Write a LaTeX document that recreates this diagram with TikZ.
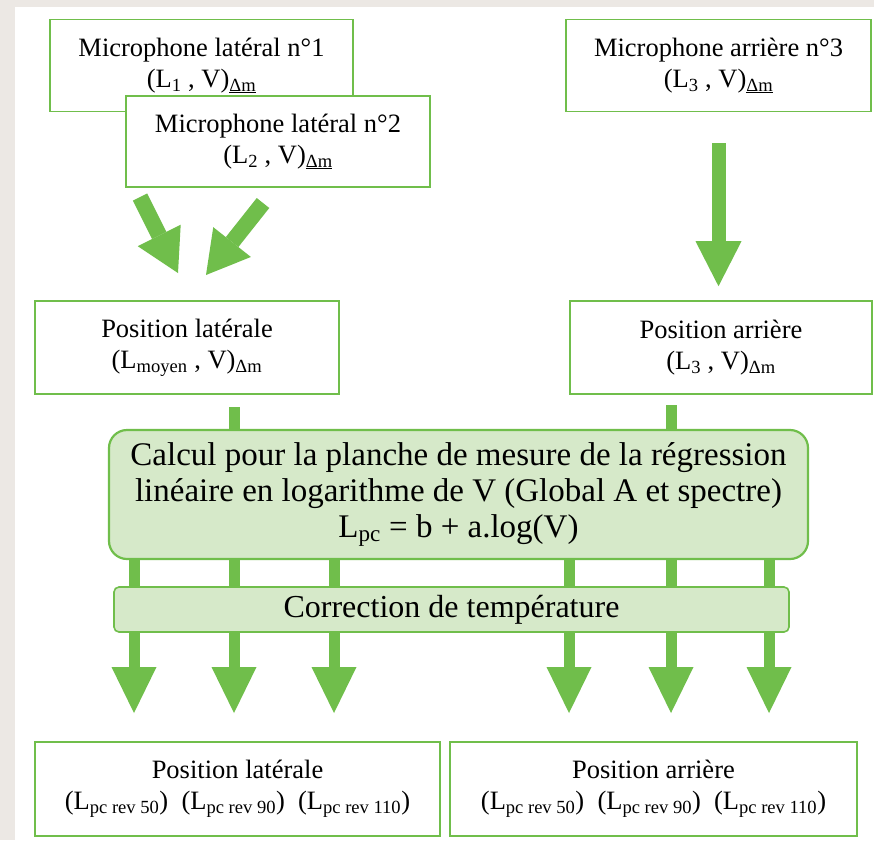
\documentclass[tikz,border=0pt]{standalone}
\usepackage{fontspec}
\setmainfont{Liberation Serif}
\usetikzlibrary{arrows.meta}
\definecolor{boxgreen}{RGB}{112,190,75}
\definecolor{calcfill}{RGB}{214,233,201}
\definecolor{pagebg}{RGB}{236,232,228}

\begin{document}
\begin{tikzpicture}[x=1pt,y=-1pt,
    box/.style={draw=boxgreen,line width=1.6pt,fill=white,align=center,inner sep=0pt,
        font=\fontsize{26.5}{31}\selectfont},
    calcbox/.style={draw=boxgreen,line width=2.2pt,fill=calcfill,align=center,inner sep=0pt},
    fatarrow/.style={boxgreen,line width=16pt,-{Triangle[width=48pt,length=42pt,line width=0pt]}},
    shaft/.style={boxgreen,line width=11pt},
    downarrow/.style={boxgreen,line width=11pt,-{Triangle[width=45pt,length=46pt,line width=0pt]}}]
    \useasboundingbox (0,0) rectangle (874,840);
    \fill[pagebg] (0,0) rectangle (874,840);
    \fill[white] (15,7) rectangle (874,840);
    % microphones
    \node[box,minimum width=303pt,minimum height=92pt] (mic1) at (201.5,65.5)
        {Microphone latéral n°1\\(L\textsubscript{1} , V)\textsubscript{\underline{Δm}}};
    \node[box,minimum width=304pt,minimum height=91pt] (mic2) at (278,141.5)
        {Microphone latéral n°2\\(L\textsubscript{2} , V)\textsubscript{\underline{Δm}}};
    \node[box,minimum width=305pt,minimum height=92pt] (mic3) at (718.5,65.5)
        {Microphone arrière n°3\\(L\textsubscript{3} , V)\textsubscript{\underline{Δm}}};
    % positions
    \node[box,minimum width=304pt,minimum height=93pt] (plat) at (187,347.5)
        {Position latérale\\(L\textsubscript{moyen} , V)\textsubscript{Δm}};
    \node[box,minimum width=302pt,minimum height=93pt] (parr) at (721,347.5)
        {Position arrière\\(L\textsubscript{3} , V)\textsubscript{Δm}};
    % arrows into positions
    \coordinate (la) at (140,197);
    \coordinate (lb) at (263,203);
    \draw[fatarrow] (la) -- (178,273);
    \draw[fatarrow] (lb) -- (206,275);
    \draw[boxgreen,line width=14pt,-{Triangle[width=46pt,length=45pt,line width=0pt]}]
        ([yshift=-31pt]mic3.south) -- ([yshift=14pt]mic3.south |- parr.north);
    % regression
    \node[calcbox,rounded corners=18pt,minimum width=699pt,minimum height=129pt,
        font=\fontsize{33}{36}\selectfont] (calc) at (458.5,494.5)
        {Calcul pour la planche de mesure de la régression\\
         linéaire en logarithme de V (Global A et spectre)\\
         L\textsubscript{pc} = b + a.log(V)};
    \draw[shaft] (234,407) -- (234,0 |- calc.north);
    \draw[shaft] (671,405) -- (671,0 |- calc.north);
    % temperature
    \node[calcbox,line width=1.6pt,rounded corners=5pt,minimum width=675pt,minimum height=45pt,
        font=\fontsize{32}{36}\selectfont] (corr) at (451.5,609.5) {Correction de température};
    \foreach \x in {134,234,334,569,671,769}
        \draw[shaft] (\x,0 |- calc.south) -- (\x,0 |- corr.north);
    \foreach \x in {134,234,334,569,671,769}
        \draw[downarrow] (\x,0 |- corr.south) -- (\x,713);
    % results
    \node[box,minimum width=405pt,minimum height=94pt] (blat) at (237.5,789)
        {Position latérale\\(L\textsubscript{pc rev 50})\ \ (L\textsubscript{pc rev 90})\ \ (L\textsubscript{pc rev 110})};
    \node[box,minimum width=407pt,minimum height=94pt] (barr) at (653.5,789)
        {Position arrière\\(L\textsubscript{pc rev 50})\ \ (L\textsubscript{pc rev 90})\ \ (L\textsubscript{pc rev 110})};
\end{tikzpicture}
\end{document}
